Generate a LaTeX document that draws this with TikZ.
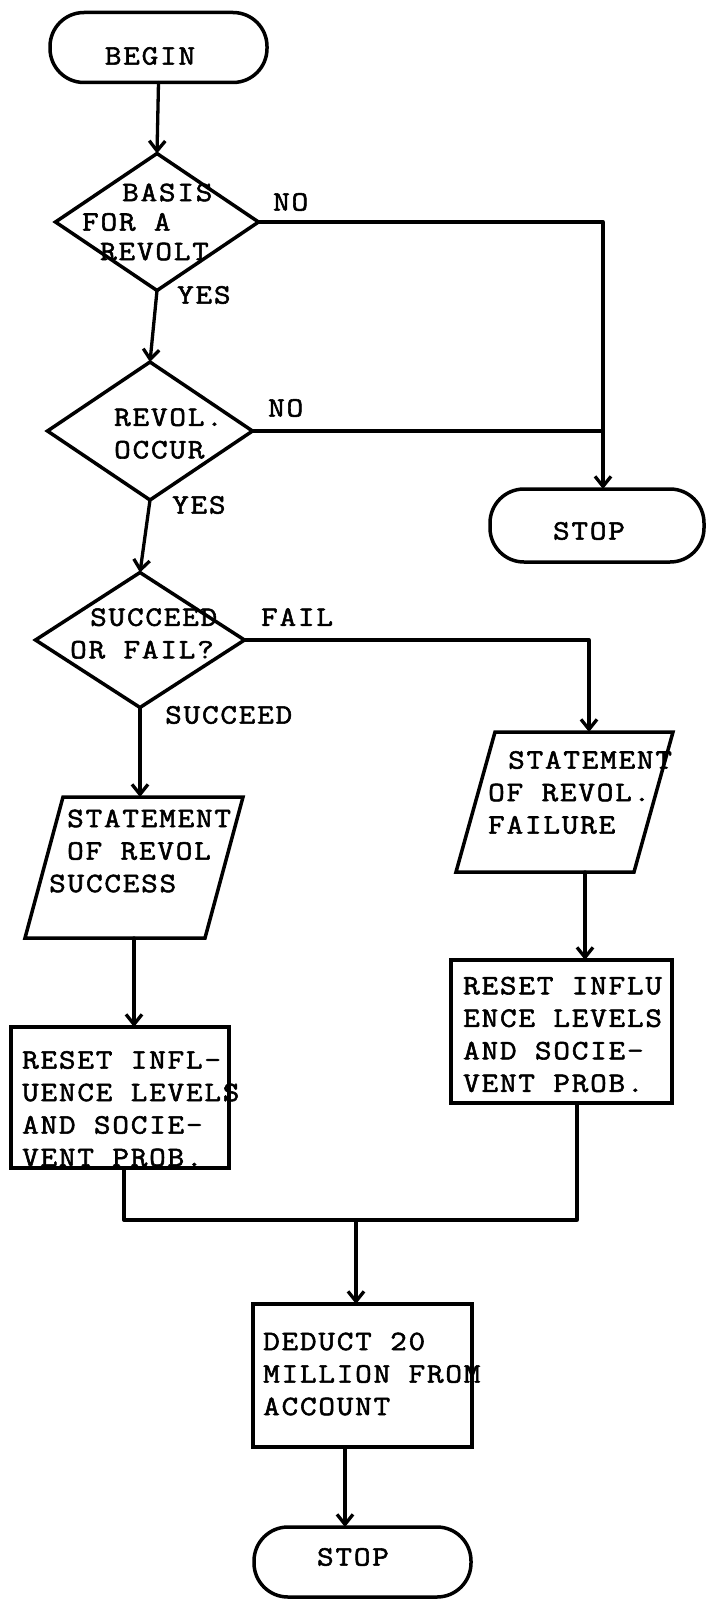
\documentclass[tikz,border=0pt]{standalone}
\usepackage{fontspec}
\newfontfamily\typewriter[FakeBold=2,FakeStretch=1.15,LetterSpace=6.5]{Latin Modern Mono}
\usetikzlibrary{shapes.geometric,arrows.meta}
\begin{document}
\begin{tikzpicture}[x=1pt,y=-1pt,
  flow/.style={line width=3.3pt, line cap=round, line join=round},
  arrowline/.style={flow, -{Straight Barb[length=10pt,width=16pt]}},
  shapebox/.style={draw, line width=3.5pt, inner sep=0pt, outer sep=0pt},
  terminal/.style={shapebox, rectangle, rounded corners=34pt, minimum width=217pt, minimum height=70pt},
  decision/.style={shapebox, diamond},
  process/.style={shapebox, rectangle},
  iobox/.style={inner sep=0pt, outer sep=0pt, rectangle},
  slantedge/.style={line width=3.5pt, line join=miter},
  txt/.style={inner sep=0pt, align=left, anchor=west, font=\typewriter\fontsize{28}{32.5}\selectfont},
]
\useasboundingbox (0,0) rectangle (705,1600);

% ---- shapes ----
\node[terminal] (begin) at (158.5,47.5) {};
\node[decision, minimum width=203pt, minimum height=137pt] (d1) at (157,222) {};
\node[decision, minimum width=205pt, minimum height=138pt] (d2) at (150,431) {};
\node[terminal, minimum width=214pt, minimum height=73pt] (stop1) at (597,525.5) {};
\node[decision, minimum width=209pt, minimum height=135pt] (d3) at (140,640) {};
\node[iobox, minimum width=218pt, minimum height=141pt] (p1) at (134,867.5) {};
\node[iobox, minimum width=217pt, minimum height=140pt] (p2) at (564.5,802) {};
\node[process, minimum width=218pt, minimum height=141pt] (r1) at (120,1097.5) {};
\node[process, minimum width=221pt, minimum height=143pt] (r2) at (561.5,1031.5) {};
\node[process, minimum width=219pt, minimum height=143pt] (r3) at (362.5,1375.5) {};
\node[terminal, minimum width=217pt, minimum height=70pt] (stop2) at (362.5,1562) {};

% slanted input/output boxes
\draw[slantedge] ([xshift=38pt]p1.north west) -- (p1.north east)
  -- ([xshift=-38pt]p1.south east) -- (p1.south west) -- cycle;
\draw[slantedge] ([xshift=39pt]p2.north west) -- (p2.north east)
  -- ([xshift=-39pt]p2.south east) -- (p2.south west) -- cycle;

% ---- texts ----
\node[txt, anchor=center] (tbegin) at (150,56) {BEGIN};
\node[txt] (td1) at (82,222) {\hspace*{40pt}BASIS\\[-3pt]FOR A\\[-3pt]\hspace*{18pt}REVOLT};
\node[txt] (td2) at (114,433.5) {REVOL.\\OCCUR};
\node[txt, anchor=center] (tstop1) at (589,531) {STOP};
\node[txt] (td3) at (70,633.5) {\hspace*{20pt}SUCCEED\\OR FAIL?};
\node[txt] (tp1) at (49,851) {\hspace*{18pt}STATEMENT\\\hspace*{18pt}OF REVOL\\SUCCESS};
\node[txt] (tp2) at (488,792.5) {\hspace*{20pt}STATEMENT\\OF REVOL.\\FAILURE};
\node[txt] (tr1) at (22,1108.75) {RESET INFL-\\UENCE LEVELS\\AND SOCIE-\\VENT PROB.};
\node[txt] (tr2) at (463,1034.5) {RESET INFLU\\ENCE LEVELS\\AND SOCIE-\\VENT PROB.};
\node[txt] (tr3) at (263,1374) {DEDUCT 20\\MILLION FROM\\ACCOUNT};
\node[txt, anchor=center] (tstop2) at (353,1557) {STOP};

% ---- branch labels ----
\node[txt] (no1) at (273,202) {NO};
\node[txt] (yes1) at (177,295) {YES};
\node[txt] (no2) at (268,408) {NO};
\node[txt] (yes2) at (172,505) {YES};
\node[txt] (fail) at (261,617) {FAIL};
\node[txt] (succ) at (165,715) {SUCCEED};

% ---- junction points ----
\coordinate (j1) at (603,222);
\coordinate (j2) at (589,640);
\coordinate (a2) at (585,900);
\coordinate (m1) at (124,1220);
\coordinate (m2) at (577,1220);
\coordinate (m) at (356,1220);
\coordinate (c3) at (345,1450);

% ---- connectors ----
\draw[arrowline] (begin.south) -- (d1.north);
\draw[arrowline] (d1.south) -- (d2.north);
\draw[arrowline] (d2.south) -- (d3.north);
\draw[arrowline] (d1.east) -- (j1) -- (j1 |- stop1.north);
\draw[flow] (d2.east) -- (j1 |- d2.east);
\draw[arrowline] (d3.east) -- (j2) -- (j2 |- p2.north);
\draw[arrowline] (d3.south) -- (d3.south |- p1.north);
\draw[arrowline] (p1.south) -- (p1.south |- r1.north);
\draw[arrowline] (a2 |- p2.south) -- (a2 |- r2.north);
\draw[flow] (m1 |- r1.south) -- (m1) -- (m2) -- (m2 |- r2.south);
\draw[arrowline] (m) -- (m |- r3.north);
\draw[arrowline] (c3 |- r3.south) -- (c3 |- stop2.north);
\end{tikzpicture}
\end{document}
